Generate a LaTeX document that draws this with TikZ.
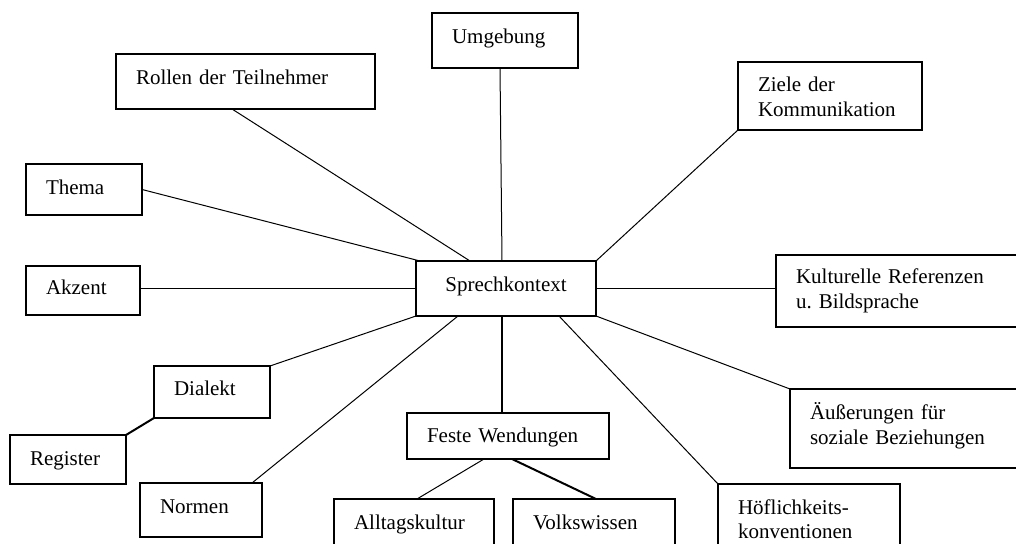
\documentclass[tikz,border=0pt]{standalone}
\usepackage{fontspec}
\setmainfont{Liberation Serif}
\usetikzlibrary{calc}

\tikzset{
  kbox/.style n args={3}{draw, line width=0.6pt, anchor=north west,
    inner xsep=10pt, inner ysep=0pt, outer sep=0pt, align=left,
    text width=#1, text height=#2, text depth=#3,
    font=\fontsize{10.5}{12.5}\selectfont},
  thin link/.style={line width=0.5pt},
  thick link/.style={line width=1pt}
}

\begin{document}
\begin{tikzpicture}[x=0.5pt,y=-0.5pt]
\useasboundingbox (0,0) rectangle (1016,544);
\clip (0,0) rectangle (1016,544);
%% Kaesten
\node[kbox={70pt}{15.5pt}{12pt}, align=center] (spk) at (416,261) {Sprechkontext};
\node[kbox={53pt}{15.5pt}{12pt}] (umg) at (432,13) {Umgebung};
\node[kbox={109.5pt}{15.5pt}{12pt}] (rollen) at (116,54) {Rollen der Teilnehmer};
\node[kbox={72pt}{15pt}{19pt}] (ziele) at (738,62) {Ziele der\\Kommunikation};
\node[kbox={38pt}{15.5pt}{10pt}] (thema) at (26,164) {Thema};
\node[kbox={37pt}{14.5pt}{10pt}] (akzent) at (26,266) {Akzent};
\node[kbox={107pt}{14.5pt}{21.5pt}] (kultur) at (776,255) {Kulturelle Referenzen\\u.\ Bildsprache};
\node[kbox={38pt}{15pt}{11pt}] (dialekt) at (154,366) {Dialekt};
\node[kbox={38pt}{15.5pt}{9pt}] (register) at (10,435) {Register};
\node[kbox={100pt}{15.5pt}{24pt}] (aeuss) at (790,389) {Äußerungen für\\soziale Beziehungen};
\node[kbox={81pt}{15pt}{8pt}] (feste) at (407,413) {Feste Wendungen};
\node[kbox={41pt}{15pt}{12pt}] (normen) at (140,483) {Normen};
\node[kbox={60pt}{15pt}{15.5pt}] (alltag) at (334,499) {Alltagskultur};
\node[kbox={61pt}{15pt}{15.5pt}] (volks) at (513,499) {Volkswissen};
\node[kbox={71pt}{15pt}{23pt}] (hoefl) at (718,484) {Höflichkeits-\\konventionen};

%% Verbindungen
\draw[thin link] ($(rollen.south west)+(116,0)$) -- ($(spk.north west)+(54,0)$);
\draw[thin link] (thema.east) -- ($(spk.north west)+(4,0)$);
\draw[thin link] ($(umg.south west)+(68,0)$) -- ($(spk.north west)+(86,0)$);
\draw[thin link] (ziele.south west) -- (spk.north east);
\draw[thin link] (spk.west) -- (spk.west -| akzent.east);
\draw[thin link] (spk.east) -- (spk.east -| kultur.west);
\draw[thin link] (spk.south east) -- (aeuss.north west);
\draw[thin link] ($(spk.south west)+(143,0)$) -- (hoefl.north west);
\coordinate (spkfoot) at ($(spk.south west)+(86,0)$);
\draw[thick link] (spkfoot) -- (spkfoot |- feste.north);
\draw[thin link] ($(feste.south west)+(77,0)$) -- ($(alltag.north west)+(83,0)$);
\draw[thick link] ($(feste.south west)+(105,0)$) -- ($(volks.north west)+(83,0)$);
\draw[thin link] ($(normen.north west)+(112,0)$) -- ($(spk.south west)+(42,0)$);
\draw[thin link] (spk.south west) -- (dialekt.north east);
\draw[thick link] (dialekt.south west) -- (register.north east);

\end{tikzpicture}
\end{document}
